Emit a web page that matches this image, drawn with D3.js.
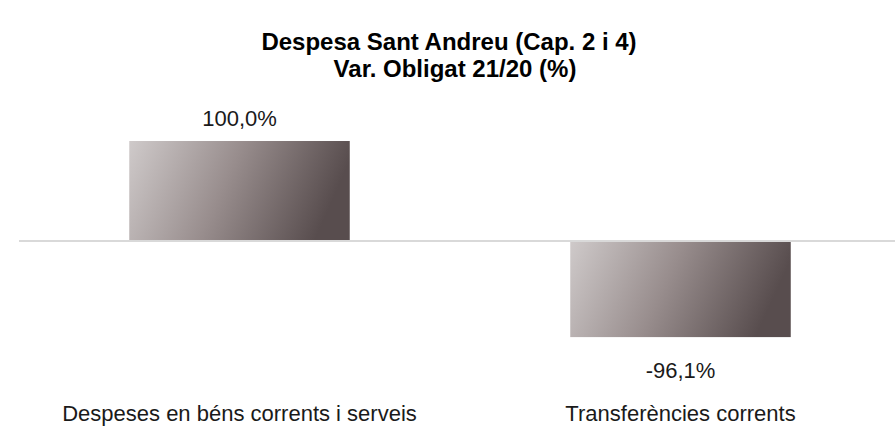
<!DOCTYPE html>
<html>
<head>
<meta charset="utf-8">
<script src="https://cdn.jsdelivr.net/npm/d3@7"></script>
<style>
  html, body { margin: 0; padding: 0; background: #fff; }
  svg { display: block; font-family: "Liberation Sans", Arial, sans-serif; }
</style>
</head>
<body>
<svg id="chart" width="895" height="433"></svg>
<script>
// Budget chapters and their year-on-year change in obligations (%)
const categories = ["Despeses en béns corrents i serveis", "Transferències corrents"];
const values = [100.0, -96.1];
const titleLines = ["Despesa Sant Andreu (Cap. 2 i 4)", "Var. Obligat 21/20 (%)"];

const fmt = v => v.toFixed(1).replace(".", ",") + "%";

const svg = d3.select("#chart");

const x = d3.scaleBand().domain(categories).range([19, 901]).paddingInner(0.5).paddingOuter(0.25);
const y = d3.scaleLinear().domain([-96.1, 100]).range([337.1, 141]);

const defs = svg.append("defs");
const grad = defs.append("linearGradient")
  .attr("id", "barGrad")
  .attr("x1", 0).attr("y1", 0).attr("x2", 1).attr("y2", 0.2);
grad.append("stop").attr("offset", "0%").attr("stop-color", "#cfcaca");
grad.append("stop").attr("offset", "50%").attr("stop-color", "#988d8d");
grad.append("stop").attr("offset", "100%").attr("stop-color", "#584d4e");

// bars
svg.selectAll("rect.bar")
  .data(values)
  .join("rect")
  .attr("class", "bar")
  .attr("x", (d, i) => x(categories[i]))
  .attr("width", x.bandwidth())
  .attr("y", d => y(Math.max(0, d)))
  .attr("height", d => Math.abs(y(d) - y(0)))
  .attr("fill", "url(#barGrad)");

// zero line
svg.append("line")
  .attr("x1", 19).attr("x2", 895)
  .attr("y1", y(0)).attr("y2", y(0))
  .attr("stroke", "#d9d9d9").attr("stroke-width", 2);

// value labels
svg.selectAll("text.val")
  .data(values)
  .join("text")
  .attr("class", "val")
  .attr("x", (d, i) => x(categories[i]) + x.bandwidth() / 2)
  .attr("y", d => d >= 0 ? y(d) - 15 : y(d) + 41)
  .attr("text-anchor", "middle")
  .attr("font-size", 22)
  .attr("fill", "#1a1a1a")
  .text(fmt);

// category labels
svg.selectAll("text.cat")
  .data(categories)
  .join("text")
  .attr("class", "cat")
  .attr("x", d => x(d) + x.bandwidth() / 2)
  .attr("y", 421)
  .attr("text-anchor", "middle")
  .attr("font-size", 22)
  .attr("fill", "#1a1a1a")
  .text(d => d);

// title, two lines
svg.selectAll("text.title")
  .data(titleLines)
  .join("text")
  .attr("class", "title")
  .attr("x", (d, i) => i === 0 ? 449 : 455)
  .attr("y", (d, i) => 50 + i * 27)
  .attr("text-anchor", "middle")
  .attr("font-size", 24)
  .attr("font-weight", "bold")
  .attr("fill", "#000")
  .text(d => d);
</script>
</body>
</html>
